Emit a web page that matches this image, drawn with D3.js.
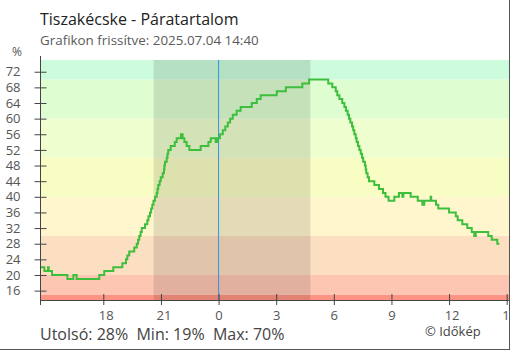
<!DOCTYPE html>
<html><head><meta charset="utf-8">
<script src="https://cdn.jsdelivr.net/npm/d3@7"></script>
<style>
body{margin:0;background:#fff}
svg{display:block;font-family:"Open Sans",sans-serif}
</style>
</head><body>
<svg id="c" width="510" height="350"></svg>
<script>
// ---- data ----
const title = "Tiszakécske - Páratartalom";
const subtitle = "Grafikon frissítve: 2025.07.04 14:40";
const unitLabel = "%";
const credit = "© Időkép";
// hours relative to midnight 2025-07-04 (negative = previous day)
const times = [-9.27,-9.07,-8.88,-8.84,-8.67,-7.87,-7.56,-7.39,-6.21,-5.95,-5.48,-5.01,-4.82,-4.75,-4.65,-4.39,-4.26,-4.19,-4.13,-4.06,-4.00,-3.83,-3.71,-3.65,-3.57,-3.51,-3.45,-3.39,-3.31,-3.22,-3.18,-3.14,-3.07,-3.01,-2.91,-2.84,-2.82,-2.79,-2.70,-2.66,-2.62,-2.49,-2.28,-2.18,-1.96,-1.87,-1.78,-1.66,-1.52,-0.93,-0.53,-0.41,-0.15,-0.05,0.07,0.22,0.35,0.48,0.60,0.74,0.94,1.15,1.73,1.99,2.19,3.03,3.50,4.36,4.71,5.71,5.92,6.10,6.18,6.29,6.44,6.55,6.63,6.72,6.79,6.86,6.95,7.01,7.07,7.14,7.19,7.26,7.33,7.40,7.47,7.53,7.62,7.66,7.69,7.76,7.83,8.11,8.35,8.56,8.69,8.85,9.15,9.39,9.57,9.62,10.00,10.37,10.61,10.71,11.04,11.07,11.32,11.44,12.00,12.35,12.45,12.69,12.95,13.18,13.31,13.39,14.04,14.22,14.51,14.62];
const values = [22,21,22,21,20,19,20,19,20,21,22,23,24,25,26,27,28,29,30,31,32,33,34,35,36,37,38,39,40,41,42,43,44,45,46,47,48,49,50,51,52,53,54,55,56,55,54,53,52,53,54,55,54,55,56,57,58,59,60,61,62,63,64,65,66,67,68,69,70,69,68,67,66,65,64,63,62,61,60,59,58,57,56,55,54,53,52,51,50,49,48,47,46,45,44,43,42,41,40,39,40,41,40,41,40,39,38,39,40,39,38,37,36,35,34,33,32,31,30,31,30,29,28,28];
const bandFrom = [0,15,20,30,40,50,60,70];
const bandTo   = [15,20,30,40,50,60,70,100];
const bandColors = ["#fd9382","#fdc6b3","#fcdec0","#fff6ce","#f8fdc4","#effecf","#defdd0","#ccfcdc"];
const nightStart = -3.38, nightEnd = 4.78;
const xTickValues = [-6,-3,0,3,6,9,12,15];
const yTickValues = [16,20,24,28,32,36,40,44,48,52,56,60,64,68,72];

// ---- layout ----
const L = 40.5, R = 509, T = 60, B = 300;
const svg = d3.select("#c");
const x = d3.scaleLinear().domain([-9.27, 15.12]).range([L, R]);
const y = d3.scaleLinear().domain([13.6, 75]).range([B, T]);

svg.append("clipPath").attr("id","pc").append("rect")
  .attr("x",L).attr("y",T).attr("width",R-L).attr("height",B-T);
const plot = svg.append("g").attr("clip-path","url(#pc)");

plot.selectAll("rect.band").data(bandFrom).join("rect").attr("class","band")
  .attr("x",L).attr("width",R-L)
  .attr("y",(d,i)=>y(bandTo[i]))
  .attr("height",(d,i)=>y(d)-y(bandTo[i]))
  .attr("fill",(d,i)=>bandColors[i]);

plot.append("rect").attr("x",x(nightStart)).attr("width",x(nightEnd)-x(nightStart))
  .attr("y",T).attr("height",B-T).attr("fill","rgba(0,0,0,0.11)");

plot.append("line").attr("x1",x(0)).attr("x2",x(0)).attr("y1",T).attr("y2",B)
  .attr("stroke","#2f96e0").attr("stroke-width",1);

const pts = times.map((t,i)=>[t,values[i]]);
plot.append("path").datum(pts)
  .attr("d", d3.line().x(d=>x(d[0])).y(d=>y(d[1])).curve(d3.curveStepAfter))
  .attr("fill","none").attr("stroke","#3dbf3d").attr("stroke-width",2);

// axes
const yAxis = svg.append("g").attr("transform",`translate(${L},0)`)
  .call(d3.axisLeft(y).tickValues(yTickValues).tickSizeInner(6).tickSizeOuter(0).tickPadding(10));
yAxis.select(".domain").remove();
yAxis.selectAll(".tick line").attr("x1",6).attr("x2",-6).attr("stroke","#444");
yAxis.selectAll(".tick text").attr("font-size",13).attr("fill","#555").attr("font-family","Open Sans").attr("x",-20);
svg.append("line").attr("x1",L).attr("x2",L).attr("y1",56).attr("y2",305).attr("stroke","#444");

const xAxis = svg.append("g").attr("transform",`translate(0,${B})`)
  .call(d3.axisBottom(x).tickValues(xTickValues).tickFormat(h=>(h+24)%24).tickSizeInner(5).tickSizeOuter(0).tickPadding(6));
xAxis.select(".domain").remove();
xAxis.selectAll(".tick line").attr("y1",-6).attr("y2",5).attr("stroke","#444");
xAxis.selectAll(".tick text").attr("font-size",13).attr("fill","#555").attr("font-family","Open Sans")
  .attr("dx",d=>String((d+24)%24).length>1?2.5:0);
svg.append("line").attr("x1",L-0.5).attr("x2",R).attr("y1",B+0.5).attr("y2",B+0.5).attr("stroke","#444");

// texts
svg.append("text").attr("x",40).attr("y",25).attr("font-size",16).attr("fill","#222").text(title);
svg.append("text").attr("x",40).attr("y",45).attr("font-size",13.4).attr("fill","#5a5a5a").text(subtitle);
svg.append("text").attr("x",12).attr("y",56).attr("font-size",12).attr("fill","#555").text(unitLabel);
const last = values[values.length-1], mn = d3.min(values), mx = d3.max(values);
svg.append("text").attr("x",40).attr("y",340).attr("font-size",16).attr("fill","#444")
  .attr("xml:space","preserve")
  .text(`Utolsó: ${last}%  Min: ${mn}%  Max: ${mx}%`);
svg.append("text").attr("x",425).attr("y",336).attr("font-size",13).attr("fill","#444").text(credit);

// frame
svg.append("line").attr("x1",509.5).attr("x2",509.5).attr("y1",0).attr("y2",350).attr("stroke","#555");
svg.append("line").attr("x1",0).attr("x2",510).attr("y1",349.5).attr("y2",349.5).attr("stroke","#555");
</script>
</body></html>
